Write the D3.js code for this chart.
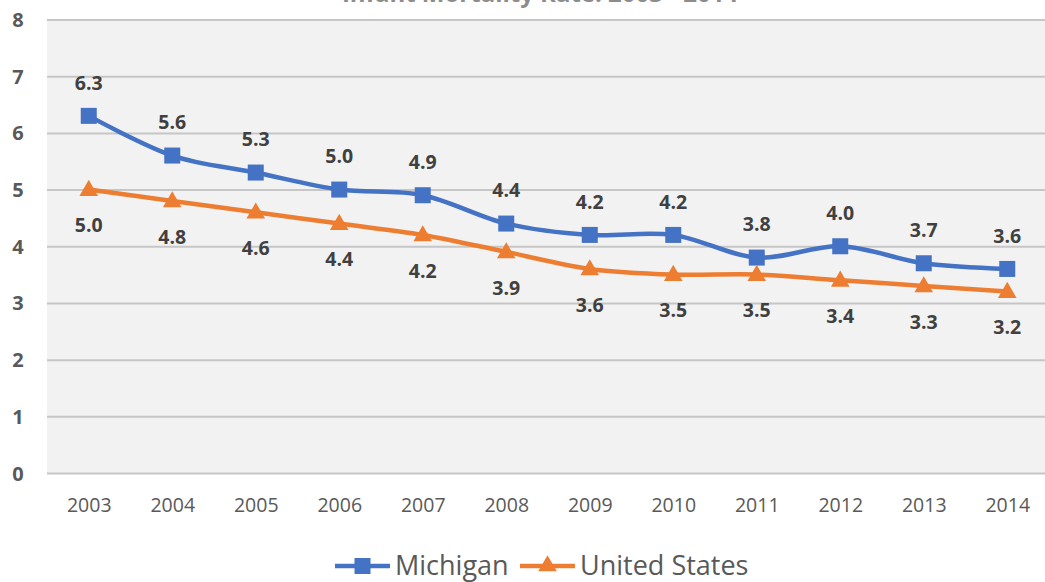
<!DOCTYPE html>
<html><head><meta charset="utf-8">
<script src="https://cdn.jsdelivr.net/npm/d3@7"></script>
<style>body{margin:0;background:#fff}svg{display:block}</style>
</head><body>
<svg id="c" width="1045" height="582"></svg>
<script>
const years = ["2003","2004","2005","2006","2007","2008","2009","2010","2011","2012","2013","2014"];
const michigan = [6.3,5.6,5.3,5.0,4.9,4.4,4.2,4.2,3.8,4.0,3.7,3.6];
const unitedStates = [5.0,4.8,4.6,4.4,4.2,3.9,3.6,3.5,3.5,3.4,3.3,3.2];
const yTicks = [0,1,2,3,4,5,6,7,8];
const seriesNames = ["Michigan","United States"];
const titleText = "Infant Mortality Rate: 2003 - 2014";

(function(){
const svg = d3.select("#c");
const pL = 47, pR = 1049, pT = 19.5, pB = 473;
const x = d3.scalePoint().domain(years).range([pL, pR]).padding(0.5);
const y = d3.scaleLinear().domain([0, 8]).range([pB, pT]);

svg.append("text").attr("x", 540).attr("y", 1.5).attr("text-anchor","middle")
  .attr("font-family","'Open Sans', sans-serif").attr("font-weight","bold")
  .attr("font-size", 24).attr("fill","#8c8c8c").text(titleText);

svg.append("rect").attr("x", pL).attr("y", pT).attr("width", 1045-pL).attr("height", pB-pT).attr("fill","#f2f2f2");

const yAxis = d3.axisLeft(y).tickValues(yTicks).tickSize(-(1045-pL)).tickFormat(d3.format("d"));
const gy = svg.append("g").attr("transform",`translate(${pL},0)`).call(yAxis);
gy.select(".domain").remove();
gy.selectAll(".tick line").attr("stroke","#c6c6c6").attr("stroke-width",2);
gy.selectAll(".tick text").attr("x",-29).attr("text-anchor","middle").attr("dy","0.35em")
  .attr("font-family","'Open Sans', sans-serif").attr("font-weight","bold").attr("font-size",20).attr("fill","#595959");

const xAxis = d3.axisBottom(x).tickSize(0).tickPadding(0);
const gx = svg.append("g").attr("transform",`translate(0,${pB})`).call(xAxis);
gx.select(".domain").remove();
gx.selectAll(".tick text").attr("y",32).attr("dy","0.35em")
  .attr("font-family","'Open Sans', sans-serif").attr("font-size",19.5).attr("fill","#595959");

const line = d3.line().x((d,i)=>x(years[i])).y(d=>y(d)).curve(d3.curveCatmullRom.alpha(0));
const colors = ["#4472c4","#ed7d31"];
const data = [michigan, unitedStates];

data.forEach((vals, si) => {
  svg.append("path").attr("d", line(vals)).attr("fill","none").attr("stroke",colors[si]).attr("stroke-width",4.5).attr("stroke-linejoin","round");
});
svg.selectAll(".sq").data(michigan).join("rect")
  .attr("x",(d,i)=>x(years[i])-8).attr("y",d=>y(d)-8).attr("width",16).attr("height",16).attr("fill",colors[0]);
const tri = d3.symbol().type(d3.symbolTriangle).size(150);
svg.selectAll(".tr").data(unitedStates).join("path")
  .attr("d",tri).attr("transform",(d,i)=>`translate(${x(years[i])},${y(d)+1})`).attr("fill",colors[1]);

const lf = "'Open Sans', sans-serif";
svg.selectAll(".lm").data(michigan).join("text")
  .attr("x",(d,i)=>x(years[i])).attr("y",d=>y(d)-33).attr("dy","0.35em").attr("text-anchor","middle")
  .attr("font-family",lf).attr("font-weight","bold").attr("font-size",19.5).attr("fill","#404040")
  .text(d=>d.toFixed(1));
svg.selectAll(".lu").data(unitedStates).join("text")
  .attr("x",(d,i)=>x(years[i])).attr("y",d=>y(d)+36).attr("dy","0.35em").attr("text-anchor","middle")
  .attr("font-family",lf).attr("font-weight","bold").attr("font-size",19.5).attr("fill","#404040")
  .text(d=>d.toFixed(1));

const lg = svg.append("g");
const legItems = [{x0:335, tx:395}, {x0:520, tx:580}];
seriesNames.forEach((n, si) => {
  const it = legItems[si], ly = 566;
  lg.append("line").attr("x1",it.x0).attr("x2",it.x0+55).attr("y1",ly).attr("y2",ly).attr("stroke",colors[si]).attr("stroke-width",4.5);
  if (si === 0) lg.append("rect").attr("x",it.x0+27.5-8).attr("y",ly-8).attr("width",16).attr("height",16).attr("fill",colors[0]);
  else lg.append("path").attr("d",tri).attr("transform",`translate(${it.x0+27.5},${ly})`).attr("fill",colors[1]);
  lg.append("text").attr("x",it.tx).attr("y",ly).attr("dy","0.35em")
    .attr("font-family",lf).attr("font-size",27).attr("fill","#595959").text(n);
});
})();
</script>
</body></html>
